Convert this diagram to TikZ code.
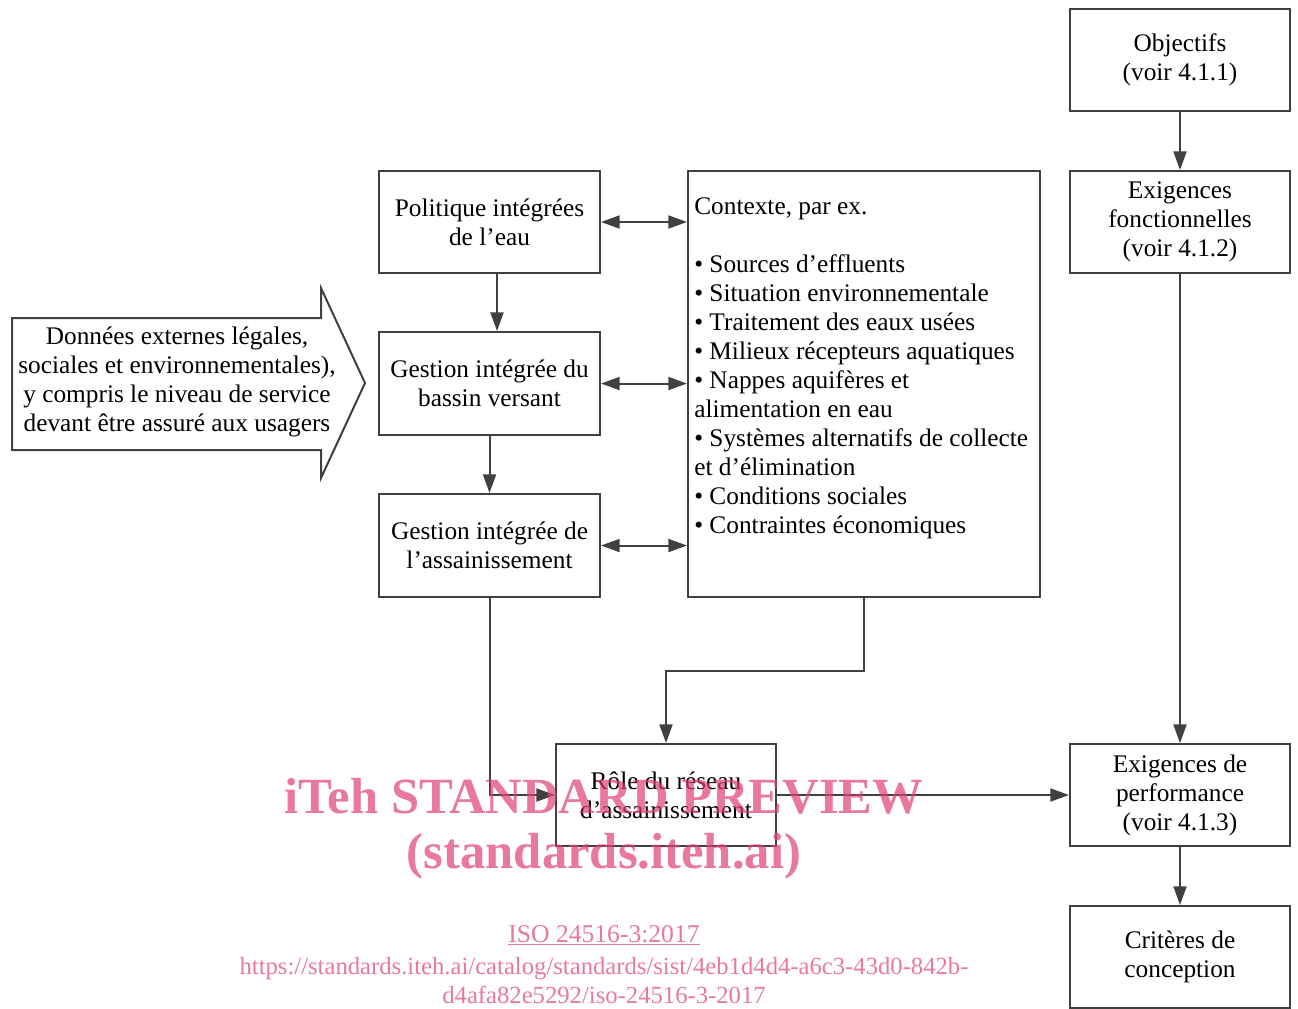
\documentclass[tikz,border=0pt]{standalone}
\usepackage{fontspec}
\setmainfont{Liberation Serif}
\usetikzlibrary{arrows.meta,calc}
\definecolor{ln}{HTML}{404040}
\definecolor{wm}{RGB}{222,64,116}
\newcommand{\mainsz}{\fontsize{19pt}{21.75pt}\selectfont}
\begin{document}
\begin{tikzpicture}[x=0.75pt,y=-0.75pt,
  box/.style={draw=ln, line width=1.5pt, minimum width=165pt, minimum height=76.5pt,
    align=center, inner sep=0pt, font=\mainsz},
  conn/.style={draw=ln, line width=1.5pt, -{Triangle[length=14pt,width=9.75pt]}},
  dconn/.style={draw=ln, line width=1.5pt, {Triangle[length=14pt,width=9.75pt]}-{Triangle[length=14pt,width=9.75pt]}},
  wmk/.style={text=wm, text opacity=0.7, inner sep=0pt, anchor=base}]
\useasboundingbox (0,0) rectangle (1298,1008);
% right column
\node[box] (obj) at (1180,60) {Objectifs\\(voir 4.1.1)};
\node[box] (fonc) at (1180,222) {Exigences\\fonctionnelles\\(voir 4.1.2)};
\node[box] (perf) at (1180,795) {Exigences de\\performance\\(voir 4.1.3)};
\node[box] (crit) at (1180,957) {Critères de\\conception};
% middle column
\node[box, minimum width=165.75pt] (pol) at (489.5,222) {Politique intégrées\\de l’eau};
\node[box, minimum width=165.75pt, minimum height=77.25pt] (bas) at (489.5,383.5) {Gestion intégrée du\\bassin versant};
\node[box, minimum width=165.75pt, minimum height=77.25pt] (ass) at (489.5,545.5) {Gestion intégrée de\\l’assainissement};
\node[box, minimum width=264pt, minimum height=319.5pt] (ctx) at (864,384) {};
\node[anchor=north west, align=left, inner sep=0pt, font=\mainsz] (ctxt) at (694,197)
 {Contexte, par ex.\\[21.75pt]
  • Sources d’effluents\\
  • Situation environnementale\\
  • Traitement des eaux usées\\
  • Milieux récepteurs aquatiques\\
  • Nappes aquifères et\\
  alimentation en eau\\
  • Systèmes alternatifs de collecte\\
  et d’élimination\\
  • Conditions sociales\\
  • Contraintes économiques};
\node[box] (role) at (666,795) {Rôle du réseau\\d’assainissement};
% big input arrow
\draw[draw=ln, line width=1.5pt] (12,318) -- (321,318) -- (321,288) -- (365,383)
  -- (321,478) -- (321,450) -- (12,450) -- cycle;
\node[align=center, inner sep=0pt, font=\mainsz] (ext) at (177,382)
 {Données externes légales,\\sociales et environnementales),\\y compris le niveau de service\\devant être assuré aux usagers};
% connectors
\draw[conn] (obj) -- (fonc);
\draw[conn] (fonc) -- (perf);
\draw[conn] (perf) -- (crit);
\draw[conn] ($(pol.south)+(7.5,0)$) -- ($(bas.north)+(7.5,0)$);
\draw[conn] (bas) -- (ass);
\draw[dconn] (pol.east) -- (pol.east -| ctx.west);
\draw[dconn] (bas.east) -- (bas.east -| ctx.west);
\draw[dconn] (ass.east) -- (ass.east -| ctx.west);
\draw[conn] (ass.south) |- (role.west);
\draw[conn] (ctx.south) -- ++(0,73) -| (role.north);
\draw[conn] (role) -- (perf);
% watermark
\node[wmk, font=\bfseries\fontsize{38pt}{40pt}\selectfont] (wm1) at (604,813) {iTeh STANDARD PREVIEW};
\node[wmk, font=\bfseries\fontsize{38pt}{40pt}\selectfont] (wm2) at (604,868) {(standards.iteh.ai)};
\node[wmk, font=\fontsize{19.2pt}{20pt}\selectfont] (wm3) at (604,942) {\underline{ISO 24516-3:2017}};
\node[wmk, font=\fontsize{18.5pt}{20pt}\selectfont] (wm4) at (604,974) {https://standards.iteh.ai/catalog/standards/sist/4eb1d4d4-a6c3-43d0-842b-};
\node[wmk, font=\fontsize{18.5pt}{20pt}\selectfont] (wm5) at (604,1003) {d4afa82e5292/iso-24516-3-2017};
\end{tikzpicture}
\end{document}
